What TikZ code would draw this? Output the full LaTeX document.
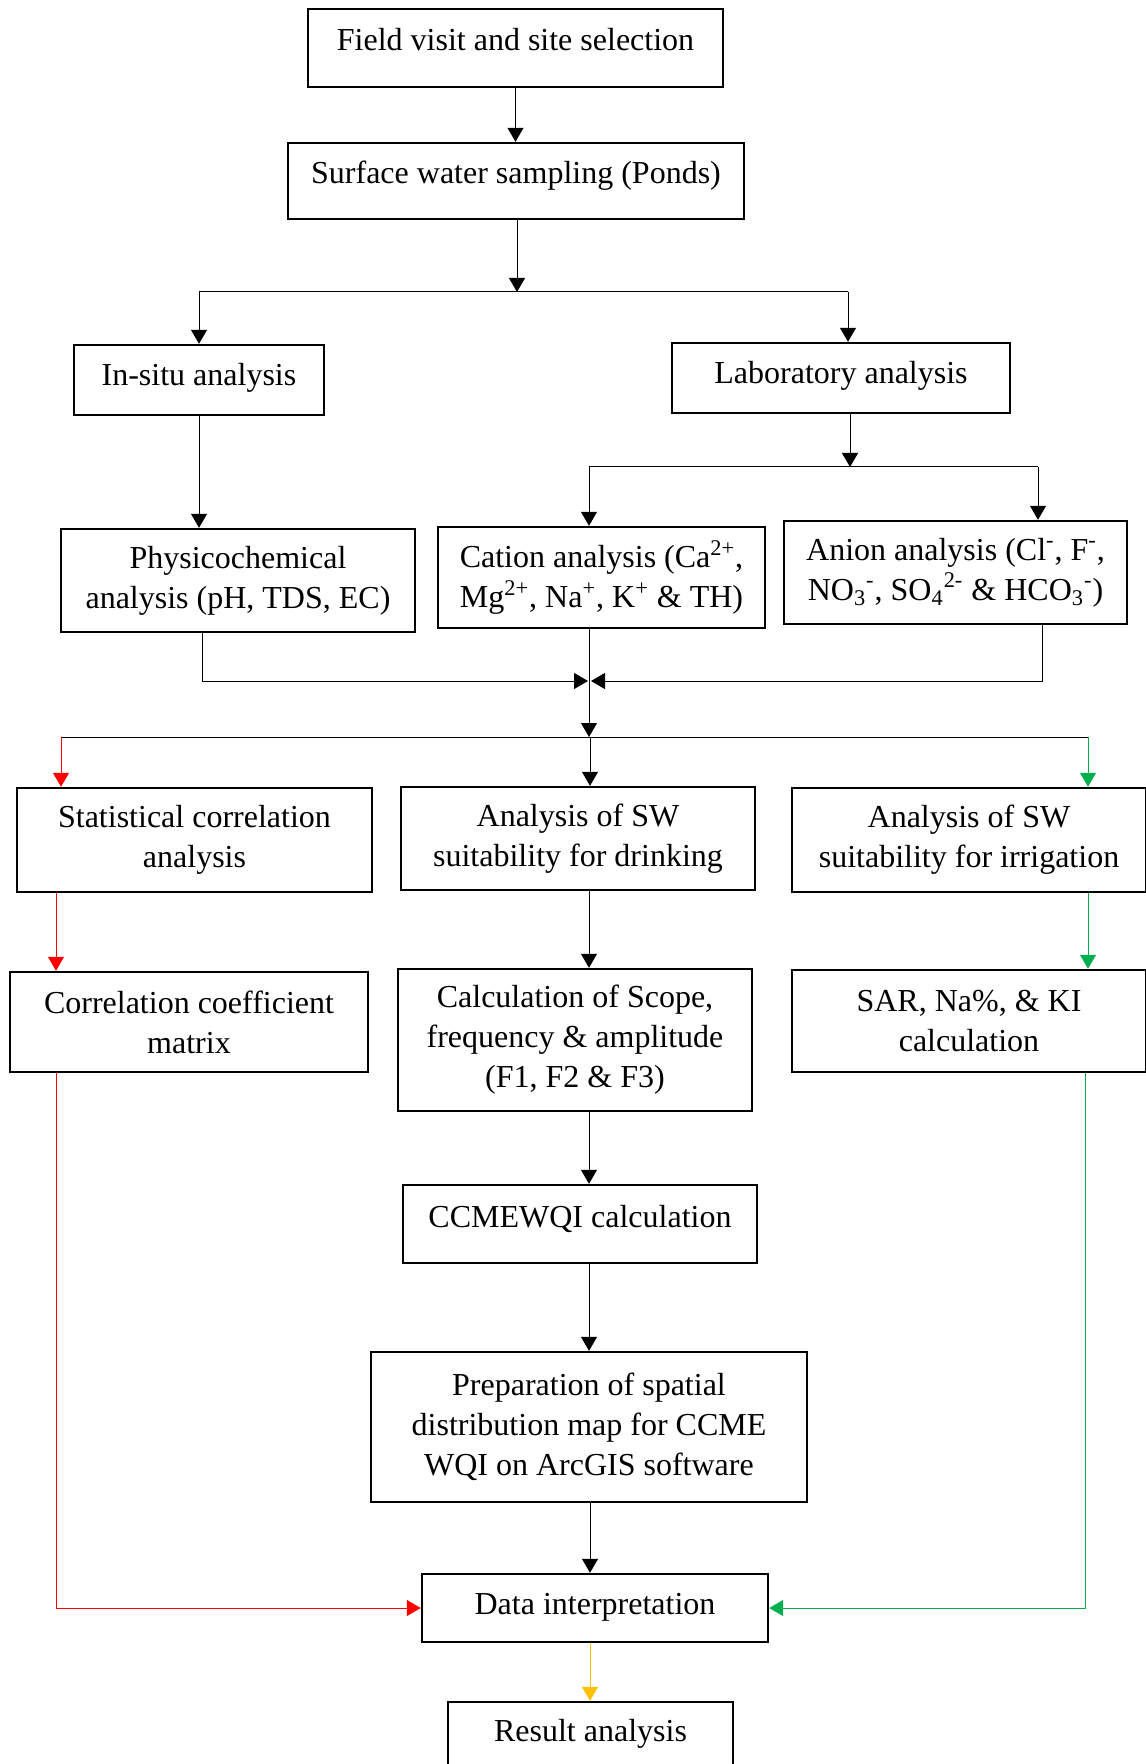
\documentclass[tikz,border=0pt]{standalone}
\usepackage{fontspec}
\setmainfont{Liberation Serif}
\usetikzlibrary{arrows.meta}
\definecolor{myred}{RGB}{255,0,0}
\definecolor{mygreen}{RGB}{0,176,80}
\definecolor{myorange}{RGB}{255,192,0}
\begin{document}
\begin{tikzpicture}[x=0.5pt,y=-0.5pt,
  box/.style={draw, line width=1.2pt, rectangle, align=center, inner sep=0pt,
    font=\fontsize{16}{20}\selectfont},
  upmore/.style={text height=11pt, text depth=8pt},
  upless/.style={text height=11pt, text depth=5pt},
  conn/.style={line width=0.5pt, -{Triangle[length=7pt,width=8pt]}},
  plain/.style={line width=0.5pt}]
\useasboundingbox (0,0) rectangle (1145,1764);
% boxes
\node[box, upmore, minimum width=207.5pt, minimum height=39pt] (field) at (515.5,48) {Field visit and site selection};
\node[box, upmore, minimum width=228pt, minimum height=38pt] (surface) at (516,181) {Surface water sampling (Ponds)};
\node[box, upless, minimum width=125pt, minimum height=35pt] (insitu) at (199,380) {In-situ analysis};
\node[box, upless, minimum width=169pt, minimum height=35pt] (lab) at (841,378) {Laboratory analysis};
\node[box, minimum width=177pt, minimum height=51.5pt] (phys) at (238,580.5) {Physicochemical\\analysis (pH, TDS, EC)};
\node[box, minimum width=163.5pt, minimum height=50.5pt] (cation) at (601.5,577.5) {Cation analysis (Ca\textsuperscript{2+},\\Mg\textsuperscript{2+}, Na\textsuperscript{+}, K\textsuperscript{+} \& TH)};
\node[box, minimum width=171.5pt, minimum height=51.5pt] (anion) at (955.5,572.5) {Anion analysis (Cl\textsuperscript{-}, F\textsuperscript{-},\\NO\textsubscript{3}\textsuperscript{-}, SO\textsubscript{4}\textsuperscript{2-} \& HCO\textsubscript{3}\textsuperscript{-})};
\node[box, minimum width=177.5pt, minimum height=52pt] (stat) at (194.5,840) {Statistical correlation\\analysis};
\node[box, minimum width=177pt, minimum height=51.5pt] (drink) at (578,838.5) {Analysis of SW\\suitability for drinking};
\node[box, minimum width=177pt, minimum height=52pt] (irrig) at (969,840) {Analysis of SW\\suitability for irrigation};
\node[box, minimum width=179pt, minimum height=50pt] (corr) at (189,1022) {Correlation coefficient\\matrix};
\node[box, minimum width=177pt, minimum height=71pt] (calc) at (575,1040) {Calculation of Scope,\\frequency \& amplitude\\(F1, F2 \& F3)};
\node[box, minimum width=177pt, minimum height=51pt] (sar) at (969,1021) {SAR, Na\%, \& KI\\calculation};
\node[box, upmore, minimum width=177pt, minimum height=39pt] (ccme) at (580,1224) {CCMEWQI calculation};
\node[box, minimum width=218pt, minimum height=75pt] (prep) at (589,1427) {Preparation of spatial\\distribution map for CCME\\WQI on ArcGIS software};
\node[box, upless, minimum width=173pt, minimum height=34pt] (data) at (595,1608) {Data interpretation};
\node[box, upless, minimum width=142.5pt, minimum height=33pt] (result) at (590.5,1735) {Result analysis};
% junction coordinates
\coordinate (j1) at (517,292);
\coordinate (j1l) at (199,292);
\coordinate (j1r) at (848,292);
\coordinate (j2) at (850,467);
\coordinate (j2l) at (589,467);
\coordinate (j2r) at (1038,467);
\coordinate (ml) at (202,681);
\coordinate (mr) at (1042,681);
\coordinate (mla) at (588,681);
\coordinate (mra) at (591,681);
\coordinate (j3) at (589,737);
\coordinate (j3l) at (61,737);
\coordinate (j3r) at (1088,737);
\coordinate (j3m) at (590,737);
\coordinate (rx) at (56,1608);
\coordinate (gx) at (1085,1608);
% connectors
\draw[conn] (field.south) -- (field.south |- surface.north);
\draw[conn] (surface.south -| j1) -- (j1);
\draw[plain] (j1l) -- (j1r);
\draw[conn] (j1l) -- (j1l |- insitu.north);
\draw[conn] (j1r) -- (j1r |- lab.north);
\draw[conn] (insitu.south) -- (insitu.south |- phys.north);
\draw[conn] (lab.south -| j2) -- (j2);
\draw[plain] (j2l) -- (j2r);
\draw[conn] (j2l) -- (j2l |- cation.north);
\draw[conn] (j2r) -- (j2r |- anion.north);
\draw[conn] (phys.south -| ml) -- (ml) -- (mla);
\draw[conn] (anion.south -| mr) -- (mr) -- (mra);
\draw[conn] (cation.south -| j3) -- (j3);
\draw[plain] (j3l) -- (j3r);
\draw[conn, myred] (j3l) -- (j3l |- stat.north);
\draw[conn] (j3m) -- (j3m |- drink.north);
\draw[conn, mygreen] (j3r) -- (j3r |- irrig.north);
\draw[conn, myred] (rx |- stat.south) -- (rx |- corr.north);
\draw[conn] (j3 |- drink.south) -- (j3 |- calc.north);
\draw[conn, mygreen] (j3r |- irrig.south) -- (j3r |- sar.north);
\draw[conn] (j3 |- calc.south) -- (j3 |- ccme.north);
\draw[conn] (j3 |- ccme.south) -- (j3 |- prep.north);
\draw[conn] (j3m |- prep.south) -- (j3m |- data.north);
\draw[conn, myred] (rx |- corr.south) -- (rx) -- (data.west);
\draw[conn, mygreen] (gx |- sar.south) -- (gx) -- (data.east);
\draw[conn, myorange] (j3m |- data.south) -- (j3m |- result.north);
\end{tikzpicture}
\end{document}
